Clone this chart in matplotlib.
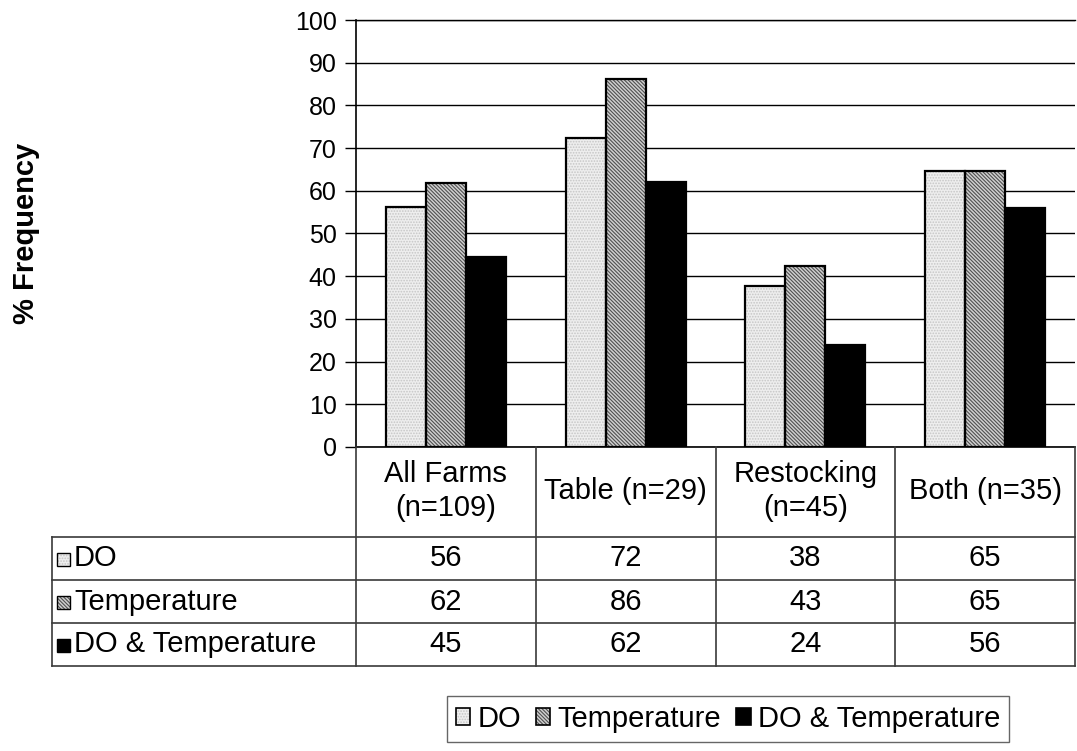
import matplotlib
matplotlib.use("Agg")
import matplotlib.pyplot as plt
import numpy as np
from matplotlib.patches import Rectangle
from matplotlib.legend_handler import HandlerTuple

plt.rcParams['font.family'] = ['Liberation Sans', 'DejaVu Sans']
plt.rcParams['hatch.linewidth'] = 0.8

categories = ["All Farms\n(n=109)", "Table (n=29)", "Restocking\n(n=45)", "Both (n=35)"]
series_names = ["DO", "Temperature", "DO & Temperature"]
do_vals = [56.3, 72.4, 37.8, 64.6]
temp_vals = [61.9, 86.2, 42.5, 64.6]
both_vals = [44.6, 62.1, 24.0, 55.9]
yticks = list(range(0, 101, 10))

FS = 21
TFS = 18

W, H = 1077, 751
fig = plt.figure(figsize=(W / 100, H / 100), dpi=100)

L, R, T, B = 356, 1075, 20, 447
ax = fig.add_axes([L / W, (H - B) / H, (R - L) / W, (B - T) / H])

styles = [
    dict(face="#eeeeee", hatch="......", hcol="#c6c6c6"),
    dict(face="#d0d0d0", hatch="\\\\\\\\\\\\\\\\\\", hcol="#505050"),
    dict(face="#000000", hatch=None, hcol="#000000"),
]
series = [do_vals, temp_vals, both_vals]
w = 40 / 180
x = np.arange(len(categories))
handles = []
for i, (vals, st) in enumerate(zip(series, styles)):
    pos = x + (i - 1) * w
    ax.bar(pos, vals, width=w, color=st["face"], edgecolor=st["hcol"],
           hatch=st["hatch"], linewidth=0, zorder=3)
    ax.bar(pos, vals, width=w, fill=False, edgecolor="black", linewidth=1.6, zorder=4)
    p1 = Rectangle((0, 0), 1, 1, facecolor=st["face"], edgecolor=st["hcol"],
                   hatch=st["hatch"], linewidth=0)
    p2 = Rectangle((0, 0), 1, 1, fill=False, edgecolor="black", linewidth=1.2)
    handles.append((p1, p2))

ax.set_xlim(-0.5, len(categories) - 0.5)
ax.set_ylim(0, 100)
ax.set_yticks(yticks)
ax.set_yticklabels([str(t) for t in yticks], fontsize=TFS)
ax.set_xticks([])
ax.yaxis.grid(True, color="black", linewidth=1.0, zorder=0)
ax.set_axisbelow(True)
ax.spines["right"].set_visible(False)
ax.spines["top"].set_linewidth(1.0)
ax.spines["left"].set_linewidth(1.2)
ax.spines["bottom"].set_linewidth(1.2)
ax.tick_params(axis="y", direction="out", length=8, width=1.0, pad=6)

# y label
fig.text(26 / W, 1 - 324 / H, "% Frequency", rotation=90, rotation_mode="anchor",
         ha="left", va="center", fontsize=21, fontweight="bold")

# Table drawn in pixel coordinates on an overlay axes
tax = fig.add_axes([0, 0, 1, 1], zorder=5)
tax.set_xlim(0, W)
tax.set_ylim(H, 0)
tax.axis("off")
tax.patch.set_alpha(0)

# the original label is cut off at its top end
tax.add_patch(Rectangle((0, 0), 60, 137, facecolor="white", edgecolor="none"))

col_edges = [L + k * (R - L) / len(categories) for k in range(len(categories) + 1)]
tab_left = 52
header_bottom = 537
row_h = 43
row_edges = [header_bottom + k * row_h for k in range(len(series) + 1)]
lc = "#3a3a3a"
lw = 1.2
for yy in row_edges:
    tax.plot([tab_left, R], [yy, yy], color=lc, lw=lw)
for xx in col_edges[1:-1]:
    tax.plot([xx, xx], [B, row_edges[-1]], color=lc, lw=lw)
tax.plot([L, L], [B, row_edges[-1]], color=lc, lw=lw)
tax.plot([R, R], [B, row_edges[-1]], color=lc, lw=lw)
tax.plot([tab_left, tab_left], [header_bottom, row_edges[-1]], color=lc, lw=lw)

for k, cat in enumerate(categories):
    cx = (col_edges[k] + col_edges[k + 1]) / 2
    tax.text(cx, (B + header_bottom) / 2 - 1, cat, ha="center", va="center",
             fontsize=FS, linespacing=1.25)

for r, (name, vals, st) in enumerate(zip(series_names, series, styles)):
    cy = (row_edges[r] + row_edges[r + 1]) / 2
    tax.add_patch(Rectangle((57, cy - 6), 13, 13, facecolor=st["face"], edgecolor=st["hcol"],
                            hatch=st["hatch"], linewidth=0))
    tax.add_patch(Rectangle((57, cy - 6), 13, 13, fill=False, edgecolor="black", linewidth=1.0))
    tax.text(74, cy, name, ha="left", va="center", fontsize=FS)
    for k, v in enumerate(vals):
        cx = (col_edges[k] + col_edges[k + 1]) / 2
        tax.text(cx, cy, str(int(v + 0.5)), ha="center", va="center", fontsize=FS)

leg = fig.legend(handles, series_names, loc="center", bbox_to_anchor=(728 / W, 1 - 719 / H),
                 ncol=3, fontsize=FS, frameon=True, fancybox=False, edgecolor="#404040",
                 handler_map={tuple: HandlerTuple(ndivide=1)},
                 handlelength=0.5, handleheight=0.5, handletextpad=0.25, columnspacing=0.5,
                 borderpad=0.3, borderaxespad=0)
leg.get_frame().set_linewidth(1.0)

fig.savefig("out.png", dpi=100)
